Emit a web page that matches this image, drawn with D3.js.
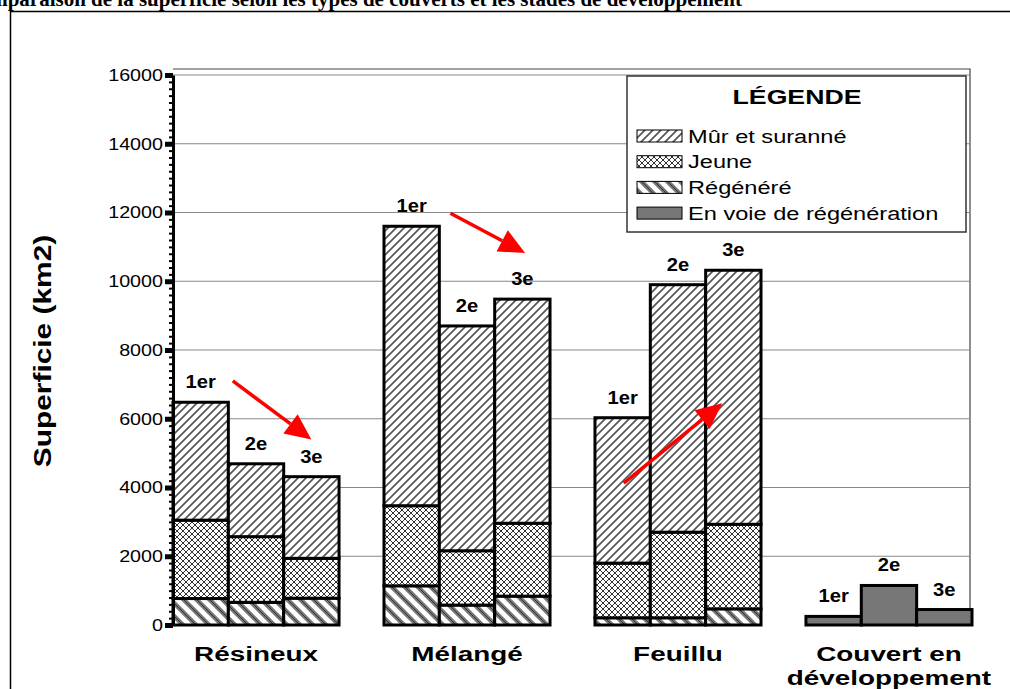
<!DOCTYPE html>
<html>
<head>
<meta charset="utf-8">
<script src="https://cdn.jsdelivr.net/npm/d3@7"></script>
<style>
  body { margin: 0; background: #fff; }
  svg { display: block; }
  text { font-family: "Liberation Sans", Arial, sans-serif; }
</style>
</head>
<body>
<svg id="chart"></svg>
<script>
const categories = ['Résineux', 'Mélangé', 'Feuillu', 'Couvert en développement'];
const periods = ['1er', '2e', '3e'];
const stages = ['Régénéré', 'Jeune', 'Mûr et suranné', 'En voie de régénération'];

// superficie (km2) par stade, une ligne par type de couvert, une colonne par période
const regenere = [[770, 660, 780], [1140, 580, 840], [210, 210, 470], [0, 0, 0]];
const jeune    = [[2280, 1910, 1160], [2330, 1580, 2120], [1590, 2490, 2460], [0, 0, 0]];
const mur      = [[3430, 2120, 2375], [8130, 6540, 6520], [4230, 7200, 7390], [0, 0, 0]];
const enVoie   = [[0, 0, 0], [0, 0, 0], [0, 0, 0], [250, 1150, 450]];

const yTicks = [0, 2000, 4000, 6000, 8000, 10000, 12000, 14000, 16000];

// flèches rouges : [catégorie, position en barres depuis le début du groupe, valeur]
const arrows = [
  {cat: 'Résineux', from: [1.08, 7100], to: [2.5, 5400]},
  {cat: 'Mélangé',  from: [1.2, 11980], to: [2.55, 10820]},
  {cat: 'Feuillu',  from: [0.52, 4130], to: [2.3, 6450]}
];

const W = 1010, H = 689;
const svg = d3.select('#chart').attr('width', W).attr('height', H);

// texte élargi (la police d'origine est plus large que Liberation Sans)
const wideText = (g, x, y, sx, size, str) => g.append('text')
  .attr('transform', `translate(${x},${y}) scale(${sx},1)`)
  .style('font-size', size + 'px')
  .text(str);

// hachures
const defs = svg.append('defs');
const pMur = defs.append('pattern').attr('id', 'pMur')
  .attr('patternUnits', 'userSpaceOnUse').attr('width', 8).attr('height', 8);
pMur.append('rect').attr('width', 8).attr('height', 8).attr('fill', '#fff');
pMur.append('path').attr('d', 'M-2,2 L2,-2 M0,8 L8,0 M6,10 L10,6')
  .attr('stroke', '#555').attr('stroke-width', 1.7);

const pJeune = defs.append('pattern').attr('id', 'pJeune')
  .attr('patternUnits', 'userSpaceOnUse').attr('width', 6).attr('height', 6);
pJeune.append('rect').attr('width', 6).attr('height', 6).attr('fill', '#fff');
pJeune.append('path').attr('d', 'M0,0 L6,6 M0,6 L6,0')
  .attr('stroke', '#333').attr('stroke-width', 1);

const pReg = defs.append('pattern').attr('id', 'pReg')
  .attr('patternUnits', 'userSpaceOnUse').attr('width', 13).attr('height', 13);
pReg.append('rect').attr('width', 13).attr('height', 13).attr('fill', '#fff');
pReg.append('path').attr('d', 'M-3,-3 L16,16 M-3,10 L3,16 M10,-3 L16,3')
  .attr('stroke', '#777').attr('stroke-width', 4.5);
pReg.append('path').attr('d', 'M-3,-3 L16,16 M-3,10 L3,16 M10,-3 L16,3')
  .attr('stroke', '#333').attr('stroke-width', 1);

const fills = {
  'Régénéré': 'url(#pReg)',
  'Jeune': 'url(#pJeune)',
  'Mûr et suranné': 'url(#pMur)',
  'En voie de régénération': '#777'
};
const stageData = {
  'Régénéré': regenere,
  'Jeune': jeune,
  'Mûr et suranné': mur,
  'En voie de régénération': enVoie
};

// titre coupé en haut, comme dans l'original
svg.append('text')
  .attr('x', 742).attr('y', 6)
  .attr('text-anchor', 'end')
  .style('font-family', '"Liberation Serif", "Times New Roman", serif')
  .style('font-weight', 'bold').style('font-size', '21px')
  .text('Comparaison de la superficie selon les types de couverts et les stades de développement');

// cadre extérieur
svg.append('rect')
  .attr('x', 10.5).attr('y', 11.5).attr('width', 1100).attr('height', 800)
  .attr('fill', 'none').attr('stroke', '#000').attr('stroke-width', 1.5);

const plotLeft = 173, plotRight = 970, plotTop = 69, plotBottom = 625;

const y = d3.scaleLinear().domain([0, 16000]).range([plotBottom, 75]);

const x0 = d3.scaleBand().domain(categories)
  .range([plotLeft, 972]).paddingInner(0.213).paddingOuter(0);
const x1 = d3.scaleBand().domain(periods)
  .range([0, x0.bandwidth()]).padding(0);

// cadre du graphique
svg.append('path')
  .attr('d', `M${plotLeft},${plotTop}H${plotRight}V${plotBottom}`)
  .attr('fill', 'none').attr('stroke', '#444').attr('stroke-width', 1.2);

// grille
svg.append('g')
  .selectAll('line')
  .data(yTicks.slice(1))
  .join('line')
  .attr('x1', plotLeft).attr('x2', plotRight)
  .attr('y1', d => y(d)).attr('y2', d => y(d))
  .attr('stroke', '#888').attr('stroke-width', 1.2);

// barres empilées
const rows = [];
categories.forEach((c, ci) => {
  periods.forEach((p, pi) => {
    let base = 0;
    stages.forEach(s => {
      const v = stageData[s][ci][pi];
      if (v > 0) rows.push({c, p, s, y0: base, y1: base + v});
      base += v;
    });
  });
});

svg.append('g')
  .selectAll('rect')
  .data(rows)
  .join('rect')
  .attr('x', d => x0(d.c) + x1(d.p))
  .attr('width', x1.bandwidth())
  .attr('y', d => y(d.y1))
  .attr('height', d => y(d.y0) - y(d.y1))
  .attr('fill', d => fills[d.s])
  .attr('stroke', '#000').attr('stroke-width', 3);

// étiquettes des périodes
const totals = [];
categories.forEach((c, ci) => {
  periods.forEach((p, pi) => {
    const t = stages.reduce((a, s) => a + stageData[s][ci][pi], 0);
    totals.push({c, p, t});
  });
});
const perG = svg.append('g').attr('text-anchor', 'middle').style('font-weight', 'bold');
totals.forEach(d => {
  wideText(perG, x0(d.c) + x1(d.p) + x1.bandwidth() / 2, y(d.t) - 14, 1.12, 18, d.p);
});

// axe Y
const minor = d3.range(0, 16001, 200);
const axMinor = svg.append('g')
  .attr('transform', `translate(${plotLeft},0)`)
  .call(d3.axisLeft(y).tickValues(minor).tickSize(4).tickFormat(''));
axMinor.select('.domain').remove();
axMinor.selectAll('line').attr('stroke-width', 2);

const axis = svg.append('g')
  .attr('transform', `translate(${plotLeft},0)`)
  .call(d3.axisLeft(y).tickValues(yTicks).tickFormat(d3.format('d'))
    .tickSize(8).tickPadding(2).tickSizeOuter(0));
axis.select('.domain').attr('stroke-width', 3);
axis.selectAll('.tick line').attr('stroke-width', 5);
axis.selectAll('.tick text')
  .style('font-size', '17px').style('font-family', '"Liberation Sans", Arial, sans-serif')
  .attr('fill', '#000')
  .attr('x', -10 / 1.16)
  .attr('transform', 'scale(1.16,1)');

// titre de l'axe Y
svg.append('text')
  .attr('transform', `translate(51,351) rotate(-90) scale(1.3,1)`)
  .attr('text-anchor', 'middle')
  .style('font-weight', 'bold').style('font-size', '23px')
  .text('Superficie (km2)');

// noms des catégories
const catLabels = svg.append('g').attr('text-anchor', 'middle').style('font-weight', 'bold');
categories.forEach(c => {
  const words = c === 'Couvert en développement' ? ['Couvert en', 'développement'] : [c];
  words.forEach((w, i) => {
    wideText(catLabels, x0(c) + x0.bandwidth() / 2, 661 + i * 24, 1.36, 20.5, w);
  });
});

// flèches
const arrowX = (cat, f) => x0(cat) + x1.step() * f;
const arrowG = svg.append('g');
arrows.forEach(a => {
  const xa = arrowX(a.cat, a.from[0]), ya = y(a.from[1]);
  const xb = arrowX(a.cat, a.to[0]), yb = y(a.to[1]);
  const ang = Math.atan2(yb - ya, xb - xa);
  const hl = 26, hw = 12;
  const bx = xb - hl * Math.cos(ang), by = yb - hl * Math.sin(ang);
  arrowG.append('line')
    .attr('x1', xa).attr('y1', ya).attr('x2', bx).attr('y2', by)
    .attr('stroke', '#f00').attr('stroke-width', 3.5);
  arrowG.append('path')
    .attr('d', `M${xb},${yb}L${bx + hw * Math.sin(ang)},${by - hw * Math.cos(ang)}L${bx - hw * Math.sin(ang)},${by + hw * Math.cos(ang)}Z`)
    .attr('fill', '#f00');
});

// légende
const lg = svg.append('g').attr('transform', 'translate(627,76)');
lg.append('rect').attr('width', 339).attr('height', 156)
  .attr('fill', '#fff').attr('stroke', '#333').attr('stroke-width', 1.5);
wideText(lg, 170, 28, 1.27, 21, 'LÉGENDE')
  .attr('text-anchor', 'middle').style('font-weight', 'bold');
const legendOrder = ['Mûr et suranné', 'Jeune', 'Régénéré', 'En voie de régénération'];
legendOrder.forEach((s, i) => {
  const ry = 60 + i * 25.7;
  lg.append('rect').attr('x', 10).attr('y', ry - 6).attr('width', 45).attr('height', 12)
    .attr('fill', fills[s]).attr('stroke', '#000').attr('stroke-width', 1);
  wideText(lg, 61, ry + 6.5, 1.31, 18, s);
});
</script>
</body>
</html>
